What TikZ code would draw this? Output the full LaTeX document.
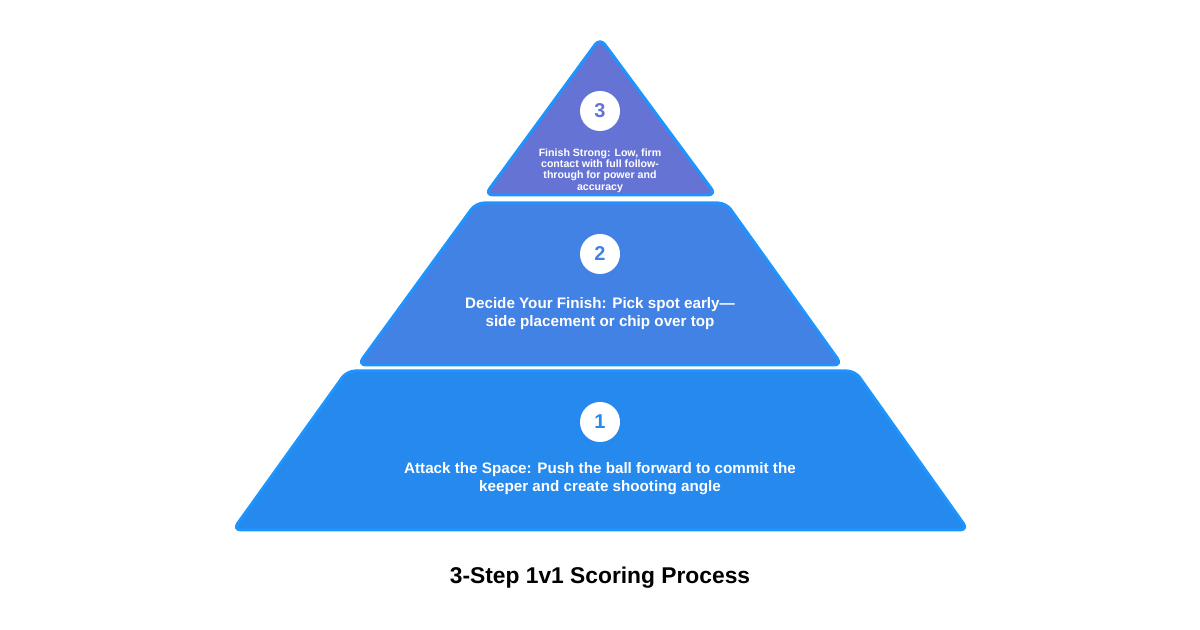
\documentclass[tikz,border=0pt]{standalone}
\usepackage{fontspec}
\setmainfont{Liberation Sans}
\usetikzlibrary{positioning}
\definecolor{edgeblue}{HTML}{1E94FF}
\definecolor{tierone}{HTML}{2589EE}
\definecolor{tiertwo}{HTML}{4282E4}
\definecolor{tierthree}{HTML}{6574D4}
\begin{document}
\begin{tikzpicture}[x=0.5pt,y=-0.5pt]

\tikzstyle{tier} = [draw=edgeblue, line width=1.5pt, rounded corners=4pt, line join=round]
\tikzstyle{badge} = [circle, fill=white, minimum size=20pt, inner sep=0pt, font=\bfseries\fontsize{10}{10}\selectfont]
\tikzstyle{caption} = [align=center, text=white, inner sep=0pt, font=\bfseries\fontsize{7.6}{8.6}\selectfont]

\useasboundingbox (0,0) rectangle (1200,630);

% tiers, bottom to top
\draw[tier, fill=tierone] (233,530) -- (347,371) -- (855,371) -- (968,530) -- cycle;
\draw[tier, fill=tiertwo] (358,365) -- (476,203) -- (726,203) -- (842,365) -- cycle;
\draw[tier, fill=tierthree] (485,195) -- (600,38) -- (716,195) -- cycle;

\node[badge, text=tierone] (num1) at (600,422) {1};
\node[badge, text=tiertwo] (num2) at (600,254) {2};
\node[badge, text=tierthree] (num3) at (600,111) {3};

\node[caption, below=10pt of num1] (text1) {Attack the Space: Push the ball forward to commit the\\keeper and create shooting angle};
\node[caption, below=11.5pt of num2] (text2) {Decide Your Finish: Pick spot early—\\side placement or chip over top};
\node[caption, below=8.5pt of num3, font=\bfseries\fontsize{5.3}{5.6}\selectfont] (text3) {Finish Strong: Low, firm\\contact with full follow-\\through for power and\\accuracy};

\node[font=\bfseries\fontsize{11.4}{13}\selectfont] (title) at (600,578) {3-Step 1v1 Scoring Process};

\end{tikzpicture}
\end{document}
